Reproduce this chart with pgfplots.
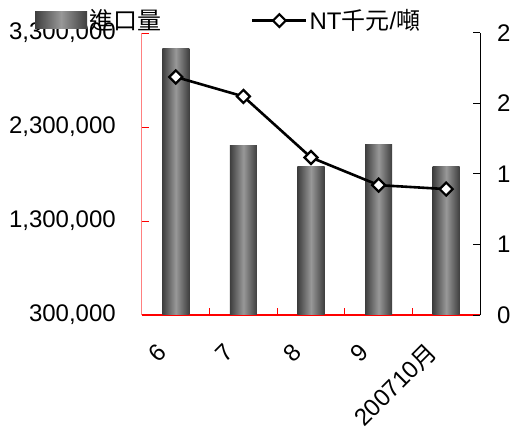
\documentclass[border=0pt]{standalone}
\usepackage{fontspec}
\setmainfont{Liberation Sans}
\newfontfamily\cjk{Noto Sans CJK TC}
\usepackage{pgfplots}
\pgfplotsset{compat=1.18}

\definecolor{bardark}{RGB}{62,62,62}
\definecolor{barlight}{RGB}{152,152,152}
\newcommand{\bigfont}{\fontsize{24bp}{28bp}\selectfont}

\pgfplotsset{
  every tick label/.append style={font=\bigfont},
  /pgf/number format/assume math mode=true,
  cylbar/.style={ybar, bar width=0.4, bar shift=0pt, draw=none,
    left color=bardark, right color=bardark, middle color=barlight},
}

\begin{document}
\begin{tikzpicture}
\path[use as bounding box] (-142bp,-117bp) rectangle (372bp,315bp);

% import volume (left axis)
\begin{axis}[
    scale only axis,
    width=338bp, height=282bp,
    xmin=-0.5, xmax=4.5,
    ymin=300000, ymax=3300000,
    scaled y ticks=false,
    axis lines*=left,
    x axis line style={red, line width=1.3bp},
    y axis line style={red!50, line width=1bp},
    tick align=inside,
    major tick length=7.5bp,
    xtick={0.5,1.5,2.5,3.5},
    xticklabels={},
    x tick style={red, line width=1bp},
    ytick={300000,1300000,2300000,3300000},
    yticklabels={{300,000},{1,300,000},{2,300,000},{3,300,000}},
    y tick style={red, line width=1bp},
    yticklabel style={inner sep=0pt, xshift=-26bp},
    legend columns=2,
    legend style={draw=none, fill=none, at={(-0.317,1.09)}, anchor=north west,
      font=\bigfont, inner sep=0pt, nodes={inner sep=2bp},
      /tikz/every even column/.append style={column sep=88bp}},
]
% one plot per bar, so that every bar gets its own shading
\addplot[cylbar,
  legend image code/.code={
    \path[left color=bardark, right color=bardark, middle color=barlight]
      (0bp,-8bp) rectangle (52bp,9bp);}]
  coordinates {(0,3131000)};
\addlegendentry{\cjk 進口量}
\addplot[cylbar, forget plot] coordinates {(1,2103000)};
\addplot[cylbar, forget plot] coordinates {(2,1880000)};
\addplot[cylbar, forget plot] coordinates {(3,2113000)};
\addplot[cylbar, forget plot] coordinates {(4,1880000)};
\addlegendimage{black,
  legend image code/.code={
    \draw[black, line width=2.6bp] (0bp,0bp) -- (54bp,0bp);
    \draw[black, fill=white, line width=2.2bp, rotate around={45:(27bp,0bp)}]
      (22.5bp,-4.5bp) rectangle (31.5bp,4.5bp);}}
\addlegendentry{NT{\cjk 千元}/{\cjk 噸}}
\end{axis}

% price (right axis) and month labels
\begin{axis}[
    scale only axis,
    width=338bp, height=282bp,
    xmin=-0.5, xmax=4.5,
    ymin=0, ymax=2,
    axis x line*=bottom,
    x axis line style={draw=none},
    axis y line*=right,
    y axis line style={black, line width=1bp},
    tick align=inside,
    major tick length=7.5bp,
    xtick={0,1,2,3,4},
    xticklabels={6,7,8,9,{200710\cjk 月}},
    x tick style={draw=none},
    xticklabel style={inner sep=0pt, xshift=-14bp, yshift=-33bp, rotate=45, anchor=east},
    ytick={0,0.5,1,1.5,2},
    yticklabels={0,1,1,2,2},
    y tick style={black, line width=1bp},
    yticklabel style={inner sep=0pt, xshift=17bp},
]
\addplot[black, line width=2.6bp, mark=square*, mark size=4.6bp,
  mark options={fill=white, draw=black, rotate=45, line width=2.2bp}]
  coordinates {(0,1.688) (1,1.550) (2,1.117) (3,0.921) (4,0.893)};
\end{axis}
\end{tikzpicture}
\end{document}
